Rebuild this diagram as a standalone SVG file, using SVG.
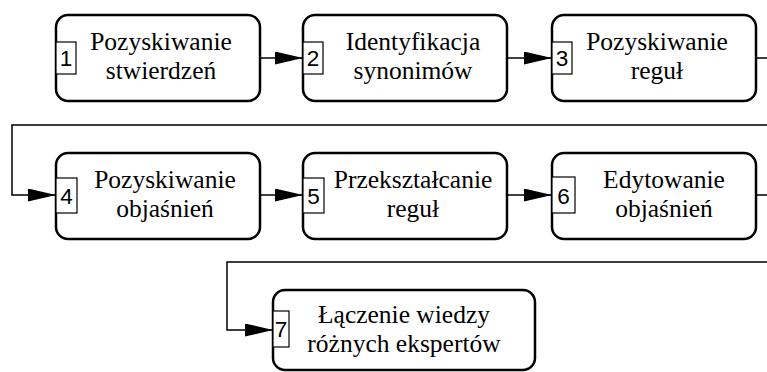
<svg xmlns="http://www.w3.org/2000/svg" width="767" height="372" viewBox="0 0 767 372">
  <style>
    .box { fill: #ffffff; stroke: #000000; stroke-width: 2.5; }
    .num { fill: #ffffff; stroke: #000000; stroke-width: 1.2; }
    .numtxt { font-family: "Liberation Sans", Arial, sans-serif; font-size: 22.5px; fill: #000000; text-anchor: middle; }
    .lbl { font-family: "Liberation Serif", "Times New Roman", serif; font-size: 25.5px; fill: #000000; text-anchor: middle; }
    .link { fill: none; stroke: #000000; stroke-width: 1.5; }
  </style>
  <defs>
    <marker id="arrow" viewBox="0 0 28 13" refX="28" refY="6.5" markerWidth="28" markerHeight="13" markerUnits="userSpaceOnUse" orient="auto">
      <path d="M0,0 L28,6.5 L0,13 z" fill="#000000"/>
    </marker>
  </defs>
  <rect width="767" height="372" fill="#ffffff"/>

  <g id="connectors">
    <path class="link" d="M260,58 H303" marker-end="url(#arrow)"/>
    <path class="link" d="M507,58 H552" marker-end="url(#arrow)"/>
    <path class="link" d="M757,58 H780 V125 H12 V195 H56" marker-end="url(#arrow)"/>
    <path class="link" d="M260,195 H303" marker-end="url(#arrow)"/>
    <path class="link" d="M507,195 H552" marker-end="url(#arrow)"/>
    <path class="link" d="M756,195 H780 V262 H227 V330 H273" marker-end="url(#arrow)"/>
  </g>

  <g id="node1">
    <rect class="box" x="56" y="15" width="204" height="86" rx="12"/>
    <rect class="num" x="56" y="42" width="20" height="32"/>
    <text class="numtxt" x="66" y="66">1</text>
    <text class="lbl" x="161" y="50">Pozyskiwanie</text>
    <text class="lbl" x="161" y="79">stwierdzeń</text>
  </g>

  <g id="node2">
    <rect class="box" x="303" y="15" width="204" height="86" rx="12"/>
    <rect class="num" x="303" y="42" width="20" height="32"/>
    <text class="numtxt" x="313" y="66">2</text>
    <text class="lbl" x="413" y="50">Identyfikacja</text>
    <text class="lbl" x="413" y="79">synonimów</text>
  </g>

  <g id="node3">
    <rect class="box" x="552" y="15" width="204" height="86" rx="12"/>
    <rect class="num" x="552" y="42" width="20" height="32"/>
    <text class="numtxt" x="562" y="66">3</text>
    <text class="lbl" x="657" y="50">Pozyskiwanie</text>
    <text class="lbl" x="657" y="79">reguł</text>
  </g>

  <g id="node4">
    <rect class="box" x="56" y="153" width="204" height="86" rx="12"/>
    <rect class="num" x="56" y="178" width="21" height="35"/>
    <text class="numtxt" x="66.5" y="204">4</text>
    <text class="lbl" x="165" y="188">Pozyskiwanie</text>
    <text class="lbl" x="165" y="217">objaśnień</text>
  </g>

  <g id="node5">
    <rect class="box" x="303" y="153" width="204" height="86" rx="12"/>
    <rect class="num" x="303" y="178" width="21" height="35"/>
    <text class="numtxt" x="313.5" y="204">5</text>
    <text class="lbl" x="413" y="188">Przekształcanie</text>
    <text class="lbl" x="413" y="217">reguł</text>
  </g>

  <g id="node6">
    <rect class="box" x="552" y="153" width="204" height="86" rx="12"/>
    <rect class="num" x="552" y="177" width="23" height="36"/>
    <text class="numtxt" x="563.5" y="204">6</text>
    <text class="lbl" x="664" y="188">Edytowanie</text>
    <text class="lbl" x="664" y="217">objaśnień</text>
  </g>

  <g id="node7">
    <rect class="box" x="273" y="290" width="262" height="80" rx="12"/>
    <rect class="num" x="273" y="311" width="16" height="36"/>
    <text class="numtxt" x="281" y="337">7</text>
    <text class="lbl" x="404" y="323">Łączenie wiedzy</text>
    <text class="lbl" x="404" y="352">różnych ekspertów</text>
  </g>
</svg>
